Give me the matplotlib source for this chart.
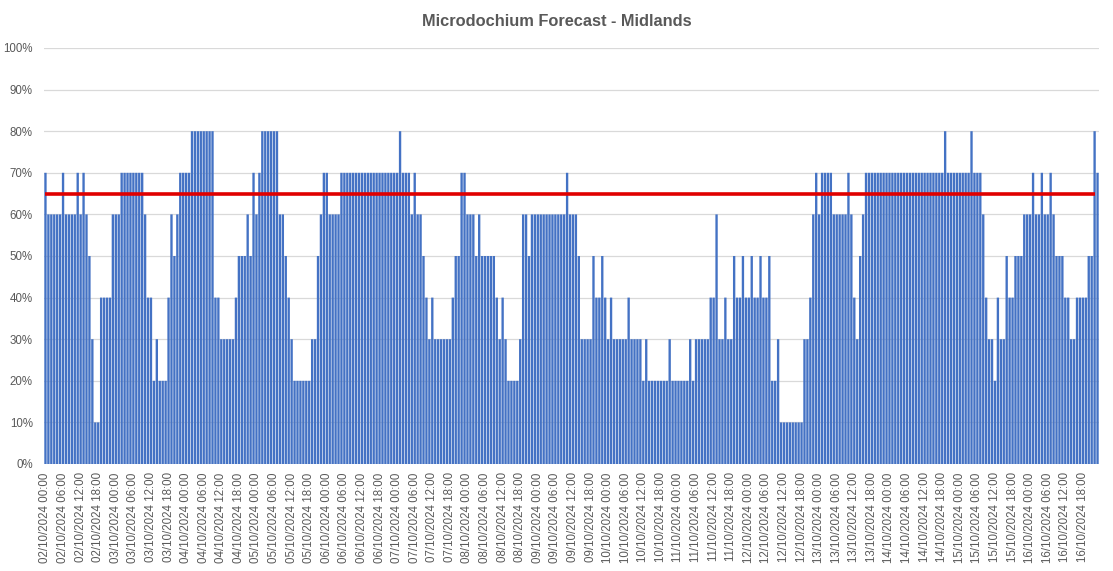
import matplotlib
matplotlib.use("Agg")
import matplotlib.pyplot as plt
import pandas as pd

# hourly Microdochium risk (%), one row per day, 02/10/2024 .. 16/10/2024
day_02 = [70, 60, 60, 60, 60, 60, 70, 60, 60, 60, 60, 70, 60, 70, 60, 50, 30, 10, 10, 40, 40, 40, 40, 60]
day_03 = [60, 60, 70, 70, 70, 70, 70, 70, 70, 70, 60, 40, 40, 20, 30, 20, 20, 20, 40, 60, 50, 60, 70, 70]
day_04 = [70, 70, 80, 80, 80, 80, 80, 80, 80, 80, 40, 40, 30, 30, 30, 30, 30, 40, 50, 50, 50, 60, 50, 70]
day_05 = [60, 70, 80, 80, 80, 80, 80, 80, 60, 60, 50, 40, 30, 20, 20, 20, 20, 20, 20, 30, 30, 50, 60, 70]
day_06 = [70, 60, 60, 60, 60, 70, 70, 70, 70, 70, 70, 70, 70, 70, 70, 70, 70, 70, 70, 70, 70, 70, 70, 70]
day_07 = [70, 80, 70, 70, 70, 60, 70, 60, 60, 50, 40, 30, 40, 30, 30, 30, 30, 30, 30, 40, 50, 50, 70, 70]
day_08 = [60, 60, 60, 50, 60, 50, 50, 50, 50, 50, 40, 30, 40, 30, 20, 20, 20, 20, 30, 60, 60, 50, 60, 60]
day_09 = [60, 60, 60, 60, 60, 60, 60, 60, 60, 60, 70, 60, 60, 60, 50, 30, 30, 30, 30, 50, 40, 40, 50, 40]
day_10 = [30, 40, 30, 30, 30, 30, 30, 40, 30, 30, 30, 30, 20, 30, 20, 20, 20, 20, 20, 20, 20, 30, 20, 20]
day_11 = [20, 20, 20, 20, 30, 20, 30, 30, 30, 30, 30, 40, 40, 60, 30, 30, 40, 30, 30, 50, 40, 40, 50, 40]
day_12 = [40, 50, 40, 40, 50, 40, 40, 50, 20, 20, 30, 10, 10, 10, 10, 10, 10, 10, 10, 30, 30, 40, 60, 70]
day_13 = [60, 70, 70, 70, 70, 60, 60, 60, 60, 60, 70, 60, 40, 30, 50, 60, 70, 70, 70, 70, 70, 70, 70, 70]
day_14 = [70, 70, 70, 70, 70, 70, 70, 70, 70, 70, 70, 70, 70, 70, 70, 70, 70, 70, 70, 80, 70, 70, 70, 70]
day_15 = [70, 70, 70, 70, 80, 70, 70, 70, 60, 40, 30, 30, 20, 40, 30, 30, 50, 40, 40, 50, 50, 50, 60, 60]
day_16 = [60, 70, 60, 60, 70, 60, 60, 70, 60, 50, 50, 50, 40, 40, 30, 30, 40, 40, 40, 40, 50, 50, 80, 70]

risk = (day_02 + day_03 + day_04 + day_05 + day_06 + day_07 + day_08 + day_09
        + day_10 + day_11 + day_12 + day_13 + day_14 + day_15 + day_16)

threshold = 65          # red risk line
threshold_hours = 359   # line stops one hour before the last bar
label_every = 6

hours = pd.date_range("2024-10-02 00:00", periods=len(risk), freq="h")
labels = [h.strftime("%d/%m/%Y %H:%M") for h in hours]

grey = "#595959"
plt.rcParams['font.family'] = ['Liberation Sans', 'DejaVu Sans']

fig = plt.figure(figsize=(11.13, 5.71), dpi=100)
ax = fig.add_axes([44 / 1113, 1 - 464 / 571, 1055 / 1113, 416 / 571])

x = range(len(risk))
bars = ax.bar(x, risk, width=0.8, color="#4472C4", linewidth=0, zorder=2)
for b in bars:
    b.set_snap(False)
ax.hlines(threshold, 0, threshold_hours - 1, color="#E00000", lw=2.6, zorder=3)

ax.set_xlim(-0.5, len(risk) - 0.5)
ax.set_ylim(0, 100)
ax.set_yticks(range(0, 101, 10))
ax.set_yticklabels([f"{v}%" for v in range(0, 101, 10)])
ax.set_xticks(list(x)[::label_every])
ax.set_xticklabels(labels[::label_every], rotation=90)

ax.grid(axis="y", color="#D9D9D9", lw=0.9, zorder=0)
for s in ax.spines.values():
    s.set_visible(False)
ax.tick_params(axis="both", length=0, colors=grey, labelsize=8.3)
ax.tick_params(axis="y", pad=8)
ax.tick_params(axis="x", pad=6)

fig.suptitle("Microdochium Forecast - Midlands", x=0.5, y=0.962, va="center",
             fontsize=11.8, fontweight="bold", color=grey)

fig.savefig("out.png", dpi=100)
